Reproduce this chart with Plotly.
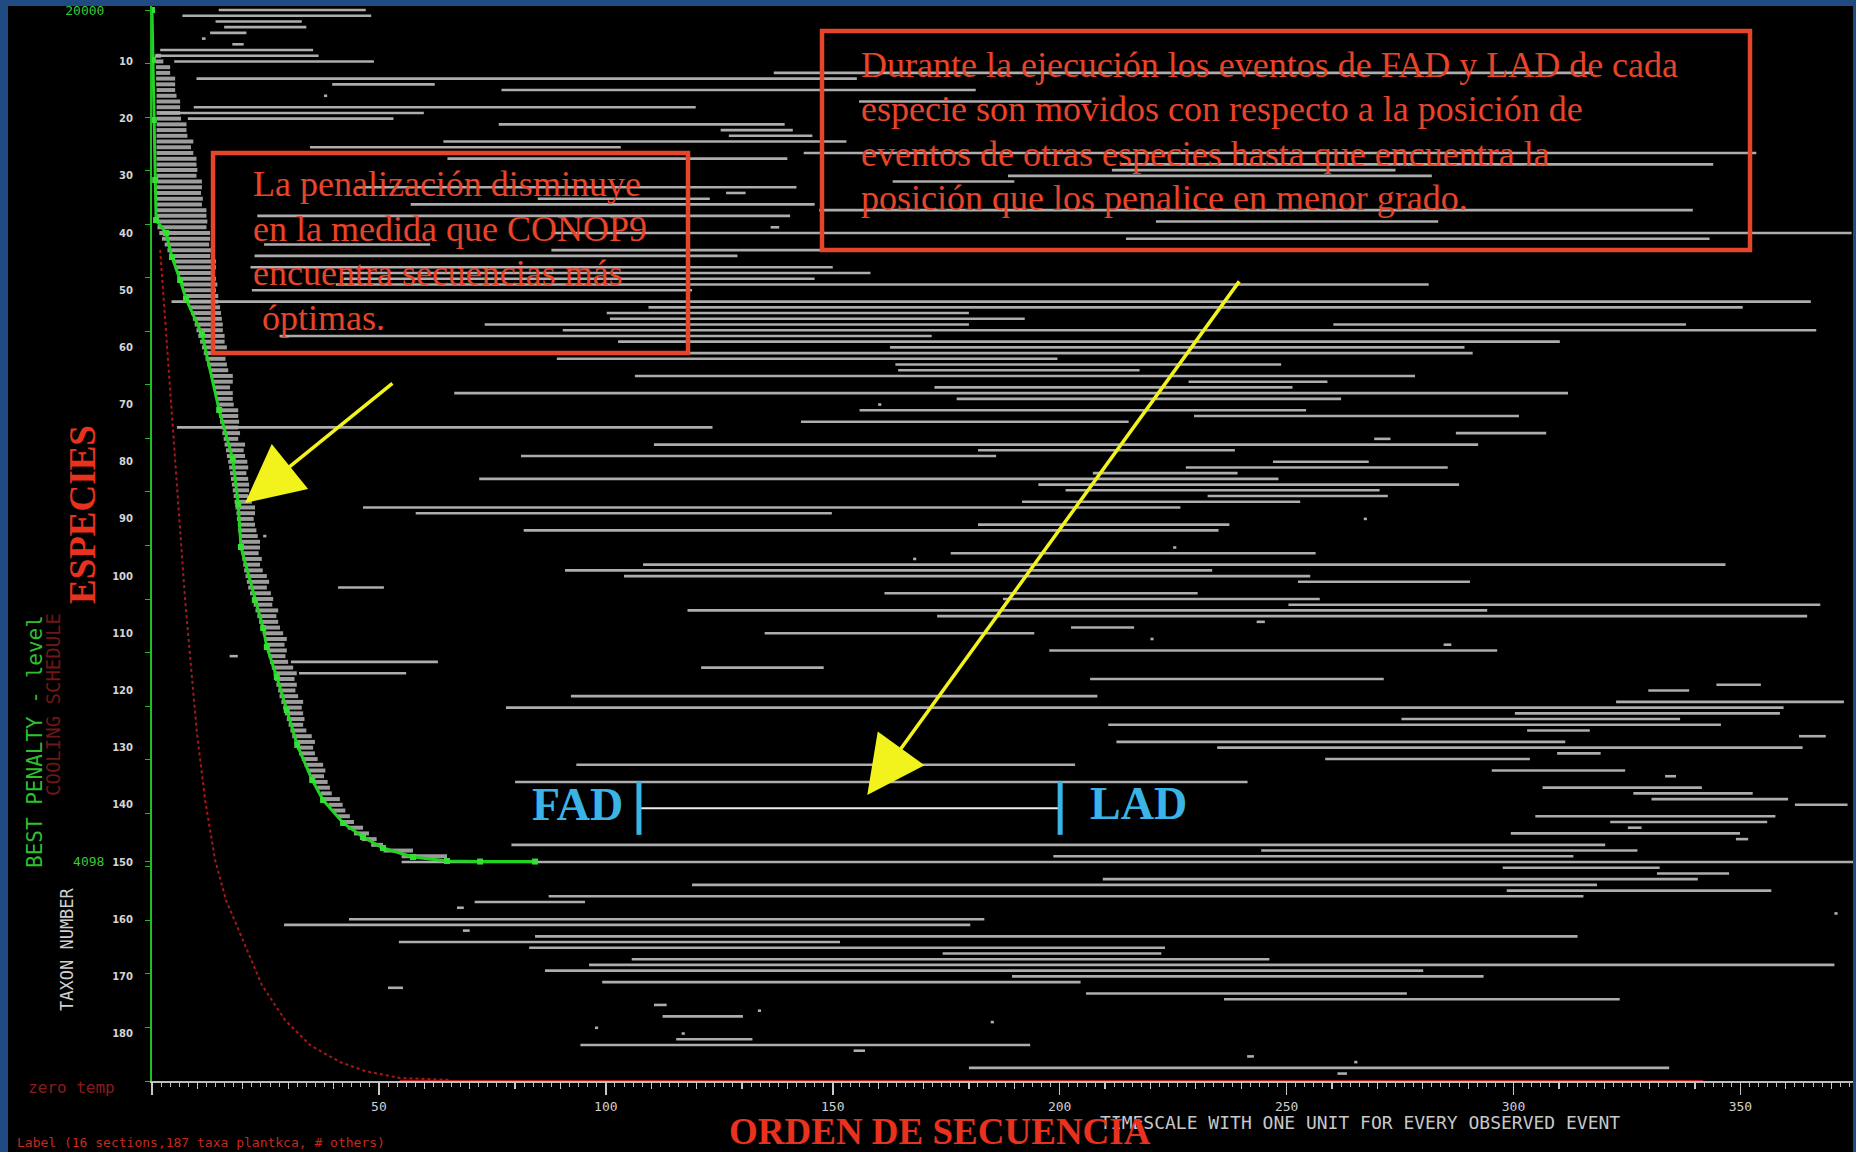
import plotly.graph_objects as go

# ---------------- data ----------------
taxon_ticks = list(range(10, 181, 10))
seq_ticks = [50, 100, 150, 200, 250, 300, 350]

# observed range lines (taxon row, first event, last event)
seg_taxon = ([1, 2, 3, 4, 5, 6, 7, 8, 9, 10]
             + [12, 13, 14, 15, 16, 17, 18, 19, 20, 21, 22, 23, 24, 25, 26, 27, 28, 29, 30, 31]
             + [32, 33, 34, 35, 36, 37, 38, 39, 40, 41, 42, 43, 44, 46, 47, 48, 49, 50]
             + [52, 53, 54, 55, 56, 56, 57, 58, 59, 60, 61, 62, 63, 64, 65, 66, 67, 68, 69, 70, 71, 72, 73]
             + [74, 75, 76, 77, 78, 79, 80, 81, 82, 83, 84, 85, 86, 87, 88, 89, 90, 91, 92, 93]
             + list(range(95, 121))
             + list(range(121, 141))
             + [142, 143, 144, 145, 146, 147, 148, 149, 150, 151, 152, 153, 154, 155, 156, 157, 158, 159, 160, 161, 162, 163, 164, 165]
             + list(range(166, 188)))
seg_first = ([14.7, 6.7, 14.0, 15.9, 12.8, 11.0, 17.7, 1.8, 0.6, 4.9]
             + [137.0, 9.8, 39.7, 77.0, 37.9, 155.8, 9.2, 1.8, 7.9, 76.4, 125.3, 127.1, 64.2, 34.8, 143.6, 65.1, 213.3, 211.5, 188.6, 163.2]
             + [44.9, 126.5, 85.0, 57.0, 147.0, 23.2, 221.2, 136.3, 88.0, 214.6, 24.7, 88.0, 22.6, 21.7, 41.6, 42.2, 40.5, 22.0]
             + [4.3, 109.4, 100.2, 100.9, 73.3, 260.3, 90.5, 28.1, 102.7, 162.6, 114.3, 89.2, 163.8, 164.4, 106.4, 228.4, 172.4, 66.6, 177.3, 160.0, 155.9, 229.6, 143.0]
             + [5.5, 287.3, 269.3, 110.6, 182.0, 81.3, 247.0, 227.8, 207.3, 72.1, 195.3, 201.3, 232.6, 191.7, 46.5, 58.1, 267.0, 182.0, 81.9, 24.5]
             + [225.0, 176.0, 167.7, 108.2, 91.0, 104.0, 252.5, 41.0, 161.4, 187.5, 250.4, 118.0, 173.0, 243.4, 202.5, 135.0, 220.0, 284.6, 197.7, 17.1, 30.6, 121.0, 32.4, 206.7, 344.7, 329.7]
             + [92.3, 322.6, 78.0, 300.3, 275.3, 210.7, 303.0, 362.9, 212.5, 234.7, 309.6, 258.5, 93.5, 295.2, 333.4, 80.0, 306.4, 326.4, 330.4, 362.0]
             + [304.8, 321.3, 325.2, 299.4, 349.0, 79.2, 244.4, 198.6, 55.0, 297.6, 331.6, 209.5, 119.0, 298.5, 87.4, 71.1, 67.2, 370.7, 43.4, 29.1, 68.5, 84.4, 54.4, 83.1]
             + [174.2, 105.7, 96.3, 86.6, 189.5, 99.2, 52.0, 205.8, 236.2, 110.6, 133.5, 112.5, 184.8, 97.6, 116.7, 115.5, 94.4, 154.6, 241.3, 264.9, 180.0, 261.2])
seg_last = ([47.1, 48.3, 33.0, 34.0, 20.8, 11.8, 20.2, 35.5, 36.7, 48.9]
            + [317.5, 155.3, 62.3, 181.5, 38.6, 207.0, 119.8, 59.9, 53.2, 139.4, 141.2, 145.5, 153.0, 103.3, 353.5, 140.0, 344.0, 274.0, 282.0, 190.0]
            + [142.0, 130.8, 122.9, 146.0, 339.5, 140.6, 283.4, 138.2, 374.5, 343.2, 61.3, 196.0, 129.0, 150.0, 158.3, 146.0, 281.3, 119.0]
            + [365.5, 350.5, 180.0, 192.3, 180.0, 338.0, 366.7, 171.8, 310.2, 289.2, 291.0, 199.5, 248.8, 217.6, 278.3, 259.0, 251.3, 312.0, 262.0, 160.7, 254.3, 301.2, 215.2]
            + [123.5, 307.2, 272.9, 292.2, 238.6, 186.0, 268.1, 285.5, 239.2, 248.2, 288.0, 270.5, 272.3, 253.0, 226.6, 149.8, 267.7, 237.4, 235.0, 25.2]
            + [225.7, 256.4, 168.4, 346.7, 233.6, 255.2, 290.4, 51.1, 230.4, 257.3, 367.6, 294.2, 364.7, 245.2, 216.4, 194.4, 220.7, 286.3, 296.4, 18.9, 63.0, 148.0, 56.0, 271.4, 354.5, 338.7]
            + [208.3, 372.8, 359.5, 358.7, 336.7, 345.7, 316.8, 368.8, 311.4, 363.7, 319.2, 303.6, 203.4, 324.6, 335.8, 241.4, 341.5, 352.7, 360.5, 373.6]
            + [357.7, 355.9, 328.2, 349.9, 351.7, 320.2, 327.3, 313.2, 374.8, 332.2, 347.5, 340.6, 318.4, 356.8, 315.4, 95.4, 68.7, 371.4, 183.4, 180.3, 70.0, 314.1, 151.6, 223.2]
            + [222.4, 246.2, 370.7, 280.1, 293.4, 204.6, 55.3, 276.5, 323.4, 113.4, 134.2, 130.2, 185.5, 98.3, 117.4, 132.3, 193.5, 157.1, 242.8, 265.6, 334.3, 263.3])

# dense block of ranges hugging the penalty curve (taxa 9..149)
block_taxon = list(range(9, 150))
block_first = [0.8, 0.8, 0.9, 0.9, 0.9, 0.9, 1.0, 1.0, 1.0, 1.0,
               1.0, 1.0, 1.0, 1.0, 1.0, 1.0, 1.0, 1.0, 1.0, 1.0,
               1.0, 1.0, 1.0, 1.0, 1.0, 1.0, 1.0, 1.0, 1.0, 1.0,
               1.2, 1.6, 2.2, 2.8, 3.4, 4.0, 4.6, 5.0, 5.6, 6.0,
               6.4, 6.8, 7.2, 7.8, 8.2, 8.6, 9.0, 9.4, 9.8, 10.2,
               10.6, 11.0, 11.4, 11.8, 12.2, 12.6, 12.9, 13.2, 13.5, 13.8,
               14.1, 14.3, 14.6, 14.8, 15.0, 15.3, 15.5, 15.8, 16.0, 16.3,
               16.5, 16.8, 17.0, 17.2, 17.4, 17.6, 17.8, 18.0, 18.2, 18.4,
               18.6, 18.7, 18.9, 19.0, 19.2, 19.3, 19.5, 19.7, 19.9, 20.1,
               20.3, 20.6, 20.9, 21.2, 21.6, 22.0, 22.4, 22.8, 23.2, 23.6,
               24.0, 24.4, 24.8, 25.1, 25.4, 25.7, 26.0, 26.4, 26.8, 27.1,
               27.4, 27.8, 28.1, 28.5, 28.9, 29.3, 29.7, 30.1, 30.5, 30.9,
               31.4, 31.9, 32.4, 33.0, 33.6, 34.3, 35.0, 35.7, 36.4, 37.2,
               38.0, 38.9, 39.8, 40.8, 41.9, 43.1, 44.5, 46.2, 48.3, 51.0,
               55.0]
block_last = [2.0, 2.5, 4.0, 4.0, 5.1, 5.1, 5.1, 5.4, 6.2, 6.2,
              6.2, 6.4, 7.6, 7.6, 7.8, 9.1, 8.6, 9.1, 9.8, 9.8,
              10.0, 9.8, 11.0, 11.0, 10.8, 11.2, 11.0, 12.0, 12.0, 12.2,
              12.0, 12.8, 12.8, 12.6, 13.0, 12.8, 14.1, 14.1, 13.6, 14.1,
              14.4, 14.1, 14.6, 14.6, 15.0, 15.2, 15.4, 15.6, 15.6, 16.0,
              16.0, 16.5, 16.5, 16.2, 16.5, 16.8, 17.8, 17.8, 17.2, 17.8,
              17.8, 18.0, 19.0, 19.0, 19.2, 19.0, 19.4, 19.0, 20.5, 20.2,
              20.5, 21.0, 21.2, 20.8, 21.2, 21.4, 21.4, 21.2, 22.0, 22.7,
              22.7, 22.4, 22.7, 23.0, 23.3, 23.8, 23.8, 23.5, 24.2, 23.8,
              24.4, 25.3, 25.8, 25.3, 26.2, 26.7, 26.5, 27.8, 27.4, 27.8,
              28.2, 28.9, 29.7, 29.2, 29.7, 29.4, 30.0, 31.1, 31.9, 31.4,
              31.9, 31.6, 32.2, 33.3, 33.0, 33.3, 33.6, 33.3, 34.0, 35.2,
              35.9, 35.5, 35.9, 36.5, 37.7, 38.2, 37.9, 38.7, 39.2, 39.6,
              41.4, 42.0, 42.6, 43.6, 44.5, 46.5, 47.8, 49.5, 50.9, 57.5,
              65.0]

# best penalty trace (green) and cooling schedule (red), penalty scale
pen_x = [0.0, 0.2, 0.4, 0.7, 0.9, 3.1, 4.4, 6.2, 7.5, 11.0, 14.8, 17.8, 19.0, 19.6,
         22.7, 24.5, 25.3, 27.5, 29.7, 32.0, 35.3, 37.7, 42.1, 46.5, 50.9, 57.5, 65.0, 72.3, 84.4]
pen_v = [20000, 19066, 17946, 16825, 16078, 15836, 15387, 14958, 14603, 13950, 12530, 11615, 10775, 9972,
         8982, 8459, 8105, 7544, 6928, 6275, 5621, 5247, 4818, 4556, 4351, 4183, 4108, 4098, 4098]
cool_x = [1.8, 2.9, 4.0, 5.1, 6.2, 7.3, 8.6, 9.9, 11.7, 13.9, 16.3, 19.6, 24.2, 29.3, 34.8, 41.4, 46.9, 54.6, 65.7]
cool_v = [15518, 14211, 12717, 11410, 10233, 8982, 7731, 6499, 5247, 4127, 3380, 2726, 1793, 1139, 672, 355, 187, 56, 19]
zero_temp_x = [54.6, 341.8]
zero_temp_v = [0, 0]
best_penalty = 4098
start_penalty = 20000

# illustrated example range
example_fad, example_lad, example_taxon = 107.3, 200.1, 140.6

# ---------------- geometry helpers ----------------
W, H = 1856, 1152
ML, MR, MT, MB = 152, 3, 6, 71
PW, PH = W - ML - MR, H - MT - MB
def fx(p):
    return (p - ML) / PW
def fy(p):
    return (H - MB - p) / PH

XR = [0, 374.8]
YR = [188.3, 0.3]

fig = go.Figure()

bx, by = [], []
for t, a, b in zip(block_taxon, block_first, block_last):
    bx += [a, b, None]
    by += [t, t, None]
fig.add_trace(go.Scatter(x=bx, y=by, mode="lines", line=dict(color="#9c9c9c", width=4),
                         hoverinfo="skip", showlegend=False))

sx, sy = [], []
for t, a, b in zip(seg_taxon, seg_first, seg_last):
    sx += [a, b, None]
    sy += [t, t, None]
fig.add_trace(go.Scatter(x=sx, y=sy, mode="lines", line=dict(color="#adadad", width=2.6),
                         hoverinfo="skip", showlegend=False))

# example FAD-LAD range
fig.add_trace(go.Scatter(x=[example_fad, example_lad], y=[example_taxon, example_taxon], mode="lines",
                         line=dict(color="#ececec", width=2), hoverinfo="skip", showlegend=False))
fig.add_trace(go.Scatter(x=[example_fad, example_lad], y=[example_taxon, example_taxon], mode="markers",
                         marker=dict(symbol="line-ns", size=38, line=dict(color="#3ab4e6", width=5)),
                         hoverinfo="skip", showlegend=False))

# cooling schedule + best penalty on the penalty axis
fig.add_trace(go.Scatter(x=cool_x, y=cool_v, yaxis="y2", mode="lines",
                         line=dict(color="#a81818", width=2, dash="dot"), hoverinfo="skip", showlegend=False))
fig.add_trace(go.Scatter(x=zero_temp_x, y=zero_temp_v, yaxis="y2", mode="lines", cliponaxis=False,
                         line=dict(color="#b41c1c", width=2), hoverinfo="skip", showlegend=False))
fig.add_trace(go.Scatter(x=pen_x, y=pen_v, yaxis="y2", mode="lines+markers",
                         line=dict(color="#22d422", width=3),
                         marker=dict(symbol="square", size=6, color="#35e035"),
                         hoverinfo="skip", showlegend=False))
# carrier for secondary tick axis
fig.add_trace(go.Scatter(x=[0], y=[None], xaxis="x2", mode="markers", hoverinfo="skip", showlegend=False))

serif = "Liberation Serif"
mono = "DejaVu Sans Mono"
red_title = "#e8321e"
box_red = "#e5452b"

def label(text, x, y, size, color, family=mono, angle=0, xanchor="center", weight="normal"):
    return dict(text=text, x=fx(x), y=fy(y), xref="paper", yref="paper", textangle=angle,
                xanchor=xanchor, yanchor="middle", showarrow=False,
                font=dict(family=family, size=size, color=color, weight=weight))

ann = []
# box texts
box1_lines = ["La penalización disminuye", "en la medida que CONOP9", "encuentra secuencias más", "\u00a0óptimas."]
for i, s in enumerate(box1_lines):
    ann.append(label(s, 251, 184 + i * 44.7, 36, "#e8442a", family=serif, xanchor="left"))
box2_lines = ["Durante la ejecución los eventos de FAD y LAD de cada",
              "especie son movidos con respecto a la posición de",
              "eventos de otras especies hasta que encuentra la",
              "posición que los penalice en menor grado."]
for i, s in enumerate(box2_lines):
    ann.append(label(s, 859, 65 + i * 44.4, 36, "#e8442a", family=serif, xanchor="left"))

# FAD / LAD labels
ann.append(dict(text="FAD", x=example_fad, y=example_taxon, xref="x", yref="y", xanchor="right",
                yanchor="middle", xshift=-14, yshift=4, showarrow=False,
                font=dict(family=serif, size=46, color="#3ab4e6", weight="bold")))
ann.append(dict(text="LAD", x=example_lad, y=example_taxon, xref="x", yref="y", xanchor="left",
                yanchor="middle", xshift=28, yshift=5, showarrow=False,
                font=dict(family=serif, size=46, color="#3ab4e6", weight="bold")))

# yellow arrows
ann.append(dict(text="", x=20.5, y=87.2, ax=53.3, ay=66.1, xref="x", yref="y", axref="x", ayref="y",
                showarrow=True, arrowhead=2, arrowsize=3.3, arrowwidth=3.5, arrowcolor="#f2f21c"))
ann.append(dict(text="", x=157.6, y=138.3, ax=239.8, ay=48.2, xref="x", yref="y", axref="x", ayref="y",
                showarrow=True, arrowhead=2, arrowsize=3.3, arrowwidth=3.5, arrowcolor="#f2f21c"))

# outer labels
ann.append(label("BEST PENALTY - level", 35, 742, 21, "#2fbf2f", angle=-90))
ann.append(label("COOLING SCHEDULE", 53, 705, 19, "#6e1717", angle=-90))
ann.append(label("TAXON NUMBER", 67, 949, 17, "#d0d0d0", angle=-90))
ann.append(label("ESPECIES", 82, 515, 37, red_title, family=serif, angle=-90, weight="bold"))
ann.append(label("zero temp", 71, 1087, 16, "#8a1c1c"))
ann.append(label("Label (16 sections,187 taxa plantkca, # others)", 15, 1142, 13, "#c62a1f", xanchor="left"))
ann.append(label("TIMESCALE WITH ONE UNIT FOR EVERY OBSERVED EVENT", 1098, 1122, 18, "#c8c8c8", xanchor="left"))
ann.append(label("ORDEN DE SECUENCIA", 940, 1131, 37, red_title, family=serif, weight="bold"))

shapes = [
    dict(type="rect", xref="paper", yref="paper", x0=fx(8), x1=fx(1853), y0=fy(1152), y1=fy(6),
         fillcolor="black", line=dict(width=0), layer="below"),
    dict(type="rect", xref="paper", yref="paper", x0=fx(213), x1=fx(688), y0=fy(353), y1=fy(153),
         line=dict(color=box_red, width=4.5), fillcolor="rgba(0,0,0,0)"),
    dict(type="rect", xref="paper", yref="paper", x0=fx(822), x1=fx(1750), y0=fy(250), y1=fy(31),
         line=dict(color=box_red, width=4.5), fillcolor="rgba(0,0,0,0)"),
]

fig.update_layout(
    width=W, height=H,
    margin=dict(l=ML, r=MR, t=MT, b=MB, pad=0),
    paper_bgcolor="#1f4a82", plot_bgcolor="black",
    showlegend=False, hovermode=False,
    xaxis=dict(range=XR, tickmode="array", tickvals=[0] + seq_ticks,
               ticktext=[""] + [str(v) for v in seq_ticks],
               ticks="outside", ticklen=12, tickwidth=1.5, tickcolor="#c8c8c8",
               showline=True, linecolor="#bdbdbd", linewidth=2, showgrid=False, zeroline=False,
               tickfont=dict(family=mono, size=13, color="#d0d0d0"),
               minor=dict(tickmode="linear", tick0=0, dtick=2, ticks="outside", ticklen=4,
                          tickcolor="#bdbdbd", tickwidth=1)),
    xaxis2=dict(overlaying="x", anchor="y", side="bottom", range=XR, tickmode="linear", tick0=0, dtick=10,
                ticks="outside", ticklen=7, tickwidth=1.2, tickcolor="#c8c8c8", showticklabels=False,
                showgrid=False, zeroline=False, showline=False),
    yaxis=dict(range=YR, tickmode="array", tickvals=taxon_ticks, ticktext=[str(v) for v in taxon_ticks],
               ticks="", showgrid=False, zeroline=False, showline=False, ticklabelstandoff=18,
               tickfont=dict(family="DejaVu Sans", size=10, color="#d4d4d4", weight="bold")),
    yaxis2=dict(overlaying="y", side="left", anchor="x", range=[0, 20075], tickmode="array",
                tickvals=[best_penalty, start_penalty], ticktext=[str(best_penalty), str(start_penalty)],
                ticks="outside", ticklen=5, tickcolor="#22bb22", showline=True, linecolor="#1fc01f",
                linewidth=2, showgrid=False, zeroline=False, ticklabelstandoff=38,
                tickfont=dict(family=mono, size=13, color="#35c935"),
                minor=dict(tickmode="linear", tick0=0, dtick=1000, ticks="outside", ticklen=5,
                           tickcolor="#22bb22")),
    annotations=ann,
    shapes=shapes,
)

fig.write_html("out.html",
               config={"displayModeBar": False, "staticPlot": True},
               post_script="document.body.style.margin='0px';document.body.style.overflow='hidden';")
